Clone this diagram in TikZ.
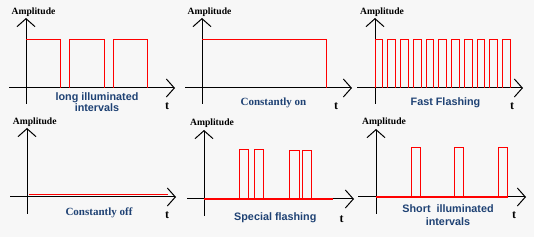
\documentclass[tikz,border=0pt]{standalone}
\usepackage{fontspec}
\setmainfont{Liberation Serif}
\setsansfont{Liberation Sans}
\usetikzlibrary{arrows.meta}
\definecolor{panelgray}{HTML}{F7F7F7}
\definecolor{signalred}{HTML}{FF0000}
\definecolor{captionblue}{HTML}{1F4274}

\begin{document}
\begin{tikzpicture}[x=1pt,y=-1pt,
  axis/.style={-{Straight Barb[length=8pt,width=18pt]},line width=1pt,black},
  signal/.style={signalred,line width=0.9pt},
  baseline/.style={signalred,line width=1.3pt},
  amplabel/.style={font=\fontsize{9.6}{10}\selectfont\bfseries,inner sep=0pt},
  tlabel/.style={font=\fontsize{12}{12}\selectfont\bfseries,inner sep=0pt},
  sanscap/.style={captionblue,font=\fontsize{10.8}{11}\selectfont\sffamily\bfseries,align=center,inner sep=0pt},
  serifcap/.style={captionblue,font=\fontsize{11}{12}\selectfont\bfseries,inner sep=0pt}]
  \fill[panelgray] (0,0) rectangle (534,237);
  \begin{scope}[shift={(26,88)}]
    \draw[axis] (-17,0) -- (149,0);
    \draw[axis] (0,16) -- (0,-70);
    \draw[signal] (0,-49) -- (34,-49) -- (34,0) (43,0) -- (43,-49) -- (78,-49) -- (78,0) (87,0) -- (87,-49) -- (121,-49) -- (121,0);
    \node[amplabel] (amp1) at (7.5,-76) {Amplitude};
    \node[tlabel] (t1) at (141,18) {t};
    \node[sanscap] (cap1) at (71,14.5) {long illuminated\\intervals};
  \end{scope}
  \begin{scope}[shift={(202,88)}]
    \draw[axis] (-17,0) -- (150,0);
    \draw[axis] (0,16) -- (0,-70);
    \draw[signal] (0,-49) -- (124,-49) -- (124,0);
    \node[amplabel] (amp2) at (7.5,-76) {Amplitude};
    \node[tlabel] (t2) at (134,18) {t};
    \node[serifcap] (cap2) at (71.5,15) {Constantly on};
  \end{scope}
  \begin{scope}[shift={(375,88)}]
    \draw[axis] (-18,0) -- (148,0);
    \draw[axis] (0,16) -- (0,-70);
    \foreach \k in {0,...,10}
      \draw[signal] ({12.77*\k},0) -- ({12.77*\k},-49) -- ({12.77*\k+7.7},-49) -- ({12.77*\k+7.7},0);
    \node[amplabel] (amp3) at (7,-76) {Amplitude};
    \node[tlabel] (t3) at (137,18) {t};
    \node[sanscap] (cap3) at (70.5,15) {Fast Flashing};
  \end{scope}
  \begin{scope}[shift={(27,197)}]
    \draw[axis] (-17,0) -- (149,0);
    \draw[axis] (0,17) -- (0,-69);
    \draw[signal,line width=1.1pt] (2,-2.6) -- (141,-2.6);
    \node[amplabel] (amp4) at (7.7,-75) {Amplitude};
    \node[tlabel] (t4) at (140,18) {t};
    \node[serifcap] (cap4) at (72,16) {Constantly off};
  \end{scope}
  \begin{scope}[shift={(204,199)}]
    \draw[axis] (-17,0) -- (150,0);
    \draw[axis] (0,17) -- (0,-69);
    \draw[baseline] (0,0) -- (129,0);
    \draw[signal] (35.3,0) rectangle (44.3,-50) (50,0) rectangle (59.3,-50)
      (85.3,0) rectangle (95,-49) (98.3,0) rectangle (107.7,-49);
    \node[amplabel] (amp5) at (8,-76) {Amplitude};
    \node[tlabel] (t5) at (137.7,20) {t};
    \node[sanscap] (cap5) at (71.3,19) {Special flashing};
  \end{scope}
  \begin{scope}[shift={(376,197)}]
    \draw[axis] (-18,0) -- (150,0);
    \draw[axis] (0,17) -- (0,-68);
    \draw[baseline] (0,0) -- (131,0);
    \draw[signal] (35,0) rectangle (44.3,-50) (78.3,0) rectangle (87.7,-50)
      (122.3,0) rectangle (131.3,-50);
    \node[amplabel] (amp6) at (8,-75) {Amplitude};
    \node[tlabel] (t6) at (138,18) {t};
    \node[sanscap] (cap6) at (72,18.5) {Short\ \ illuminated\\[2pt]intervals};
  \end{scope}
\end{tikzpicture}
\end{document}
